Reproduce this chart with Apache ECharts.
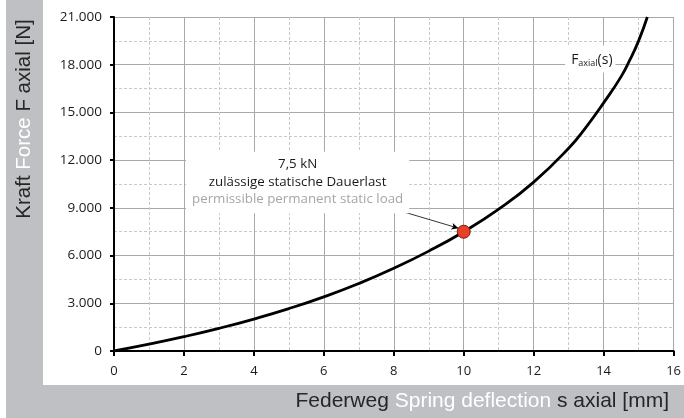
<!DOCTYPE html>
<html>
<head>
<meta charset="utf-8">
<script src="https://cdn.jsdelivr.net/npm/echarts@6/dist/echarts.min.js"></script>
<style>
html,body{margin:0;padding:0;background:#fff;}
#c{width:684px;height:418px;}
</style>
</head>
<body>
<div id="c"></div>
<script>
// Spring deflection s [mm]
const deflection = [0, 1, 2, 3, 4, 5, 6, 7, 8, 9, 10, 11, 12, 13, 13.5, 14, 14.5, 14.75, 15, 15.25];
// Axial force F [N]
const force = [0, 430, 900, 1425, 2010, 2665, 3405, 4245, 5200, 6280, 7500, 8920, 10620, 12750, 14080, 15600, 17250, 18300, 19500, 21000];
const xTicks = [0, 2, 4, 6, 8, 10, 12, 14, 16];
const yTicks = [0, 3000, 6000, 9000, 12000, 15000, 18000, 21000];
const ratedPoint = [10, 7500];
const calloutLines = ['7,5 kN', 'zulässige statische Dauerlast', 'permissible permanent static load'];

const chart = echarts.init(document.getElementById('c'), null, {renderer: 'canvas'});
const fmtY = v => v === 0 ? '0' : (Math.floor(v / 1000) + '.' + String(v % 1000).padStart(3, '0'));
const tickFont = '"Open Sans", "Noto Sans", sans-serif';
const titleFont = '"Liberation Sans", Arial, sans-serif';

chart.setOption({
  animation: false,
  backgroundColor: '#ffffff',
  graphic: [
    {type: 'rect', z: 0, shape: {x: 6, y: 0, width: 37, height: 418}, style: {fill: '#bfc0c4'}},
    {type: 'rect', z: 0, shape: {x: 6, y: 385, width: 678, height: 33}, style: {fill: '#bfc0c4'}},
    {type: 'text', z: 5, x: 669, y: 401,
      style: {
        text: '{d|Federweg }{w|Spring deflection}{d| s axial [mm]}',
        align: 'right', verticalAlign: 'middle',
        rich: {
          d: {fill: '#262626', fontSize: 21, fontFamily: titleFont},
          w: {fill: '#ffffff', fontSize: 21, fontFamily: titleFont}
        }
      }},
    {type: 'text', z: 5, x: 24, y: 119, rotation: Math.PI / 2,
      style: {
        text: '{d|Kraft }{w|Force}{d| F axial [N]}',
        align: 'center', verticalAlign: 'middle',
        rich: {
          d: {fill: '#262626', fontSize: 20.5, fontFamily: titleFont},
          w: {fill: '#ffffff', fontSize: 20.5, fontFamily: titleFont}
        }
      }}
  ],
  grid: {left: 114, top: 17, width: 564, height: 334, containLabel: false},
  xAxis: {
    type: 'value', min: 0, max: 16, interval: 2,
    axisLine: {show: true, onZero: false, lineStyle: {color: '#000', width: 2}},
    axisTick: {show: true, length: 5, lineStyle: {color: '#000', width: 2}},
    axisLabel: {color: '#1a1a1a', fontSize: 13, fontFamily: tickFont, margin: 14,
      formatter: v => xTicks.includes(v) ? String(v) : ''},
    splitLine: {show: true, lineStyle: {color: '#a9a9a9', width: 1}},
    minorTick: {show: false, splitNumber: 2},
    minorSplitLine: {show: true, lineStyle: {color: '#c9c9c9', width: 1, type: [3, 2]}}
  },
  yAxis: {
    type: 'value', min: 0, max: 21000, interval: 3000,
    axisLine: {show: true, onZero: false, lineStyle: {color: '#000', width: 2}},
    axisTick: {show: true, length: 4, lineStyle: {color: '#000', width: 2}},
    axisLabel: {color: '#1a1a1a', fontSize: 13.5, fontFamily: tickFont, margin: 12,
      formatter: v => yTicks.includes(v) ? fmtY(v) : ''},
    splitLine: {show: true, lineStyle: {color: '#a9a9a9', width: 1}},
    minorTick: {show: false, splitNumber: 2},
    minorSplitLine: {show: true, lineStyle: {color: '#c9c9c9', width: 1, type: [3, 2]}}
  },
  series: [{
    type: 'line',
    data: deflection.map((s, i) => [s, force[i]]),
    smooth: 0.5,
    showSymbol: false,
    clip: true,
    lineStyle: {color: '#000', width: 2.8},
    z: 3,
    markLine: {
      silent: true,
      symbol: ['none', 'arrow'],
      symbolSize: [5, 7],
      lineStyle: {color: '#000', width: 0.8, type: 'solid'},
      label: {show: false},
      data: [[{coord: [8.35, 8700]}, {coord: [9.85, 7720]}]]
    },
    markPoint: {
      silent: true,
      data: [
        {coord: [5.25, 10600], symbol: 'rect', symbolSize: 0,
          label: {show: true, position: 'inside', backgroundColor: '#fff',
            padding: [4, 6, 5, 6], lineHeight: 17.5, align: 'center', verticalAlign: 'middle',
            formatter: '{a|' + calloutLines[0] + '}\n{a|' + calloutLines[1] + '}\n{b|' + calloutLines[2] + '}',
            rich: {
              a: {color: '#1a1a1a', fontSize: 13.3, fontFamily: tickFont, lineHeight: 17.5},
              b: {color: '#a6a6a6', fontSize: 13.3, fontFamily: tickFont, lineHeight: 17.5}
            }}},
        {coord: [13.62, 18360], symbol: 'rect', symbolSize: 0,
          label: {show: true, position: 'inside', backgroundColor: '#fff',
            padding: [5, 3, 5, 6], align: 'center', verticalAlign: 'middle',
            formatter: '{f|F}{s|axial}{f|(s)}',
            rich: {
              f: {color: '#1a1a1a', fontSize: 14, fontFamily: tickFont, verticalAlign: 'bottom', lineHeight: 17},
              s: {color: '#1a1a1a', fontSize: 9, fontFamily: tickFont, verticalAlign: 'bottom', lineHeight: 13, padding: [4, 0, 0, 0]}
            }}},
        {coord: ratedPoint, symbol: 'circle', symbolSize: 13,
          itemStyle: {color: '#e8412a', borderColor: '#7a1a0c', borderWidth: 1},
          label: {show: false}}
      ]
    }
  }]
});
</script>
</body>
</html>
